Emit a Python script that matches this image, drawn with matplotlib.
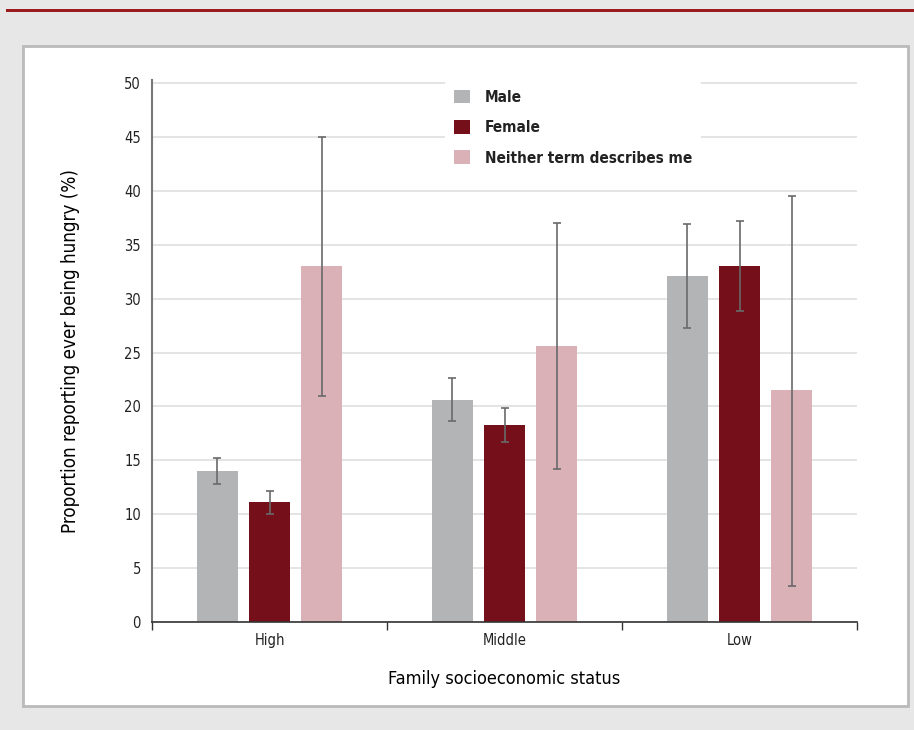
import matplotlib.pyplot as plt
from matplotlib.patches import Rectangle
import numpy as np

plt.rcParams['font.family'] = ['DejaVu Sans']
plt.rcParams['font.stretch'] = 'condensed'

groups = ['High', 'Middle', 'Low']
series = ['Male', 'Female', 'Neither term describes me']
colors = ['#b3b4b6', '#75101b', '#dbb1b8']

male = [14.0, 20.6, 32.1]
male_lo = [12.8, 18.7, 27.3]
male_hi = [15.2, 22.6, 36.9]

female = [11.1, 18.3, 33.0]
female_lo = [10.0, 16.7, 28.9]
female_hi = [12.2, 19.9, 37.2]

neither = [33.0, 25.6, 21.5]
neither_lo = [21.0, 14.2, 3.3]
neither_hi = [45.0, 37.0, 39.5]

values = [male, female, neither]
lows = [male_lo, female_lo, neither_lo]
highs = [male_hi, female_hi, neither_hi]

fig = plt.figure(figsize=(9.14, 7.30), dpi=100)
fig.patch.set_facecolor('#e6e7e6')

# red rule across the top and white panel behind the chart
fig.add_artist(Rectangle((6 / 914, 1 - 12 / 730), 1, 3 / 730, transform=fig.transFigure,
                         facecolor='#9b1b1e', edgecolor='none', zorder=-10))
fig.add_artist(Rectangle((23 / 914, 1 - 706 / 730), 885 / 914, 660 / 730, transform=fig.transFigure,
                         facecolor='white', edgecolor='#b9bab9', linewidth=2, zorder=-10))

ax = fig.add_axes([152 / 914, 108 / 730, 705 / 914, 542 / 730])
ax.set_facecolor('none')

x = np.arange(len(groups))
width = 0.175
step = 0.222
for i, (vals, lo, hi) in enumerate(zip(values, lows, highs)):
    pos = x + (i - 1) * step
    vals = np.array(vals)
    yerr = [vals - np.array(lo), np.array(hi) - vals]
    ax.bar(pos, vals, width, color=colors[i], label=series[i], zorder=2)
    ax.errorbar(pos, vals, yerr=yerr, fmt='none', ecolor='#6a6a6a', elinewidth=1.2,
                capsize=3, capthick=1.2, zorder=3)

ax.set_xlim(-0.5, 2.5)
ax.set_ylim(0, 50.3)
ax.set_yticks(range(0, 51, 5))
ax.yaxis.grid(True, color='#e2e2e2', linewidth=1.3, zorder=0)
ax.set_axisbelow(True)

ax.set_xticks(x)
ax.set_xticklabels(groups, fontsize=10.5)
ax.set_xticks([-0.5, 0.5, 1.5, 2.5], minor=True)
ax.tick_params(axis='x', which='major', length=0, pad=8)
ax.tick_params(axis='x', which='minor', length=6, width=1, color='#333333')
ax.tick_params(axis='y', length=0, labelsize=10.5, pad=8)
for lab in ax.get_yticklabels() + ax.get_xticklabels():
    lab.set_color('#222222')

for side in ['top', 'right']:
    ax.spines[side].set_visible(False)
ax.spines['left'].set_color('#777777')
ax.spines['left'].set_linewidth(1.5)
ax.spines['bottom'].set_color('#333333')
ax.spines['bottom'].set_linewidth(1.2)

ax.set_ylabel('Proportion reporting ever being hungry (%)', fontsize=13.5, labelpad=32)
ax.set_xlabel('Family socioeconomic status', fontsize=13, labelpad=16)

leg = ax.legend(loc='upper left', bbox_to_anchor=(0.405, 1.013), frameon=True, fontsize=11,
                handlelength=1.0, handleheight=1.0, labelspacing=1.0, borderpad=0.6,
                handletextpad=1.0)
leg.get_frame().set_facecolor('white')
leg.get_frame().set_edgecolor('none')
leg.get_frame().set_alpha(1)
for t in leg.get_texts():
    t.set_fontweight('bold')
    t.set_color('#222222')

fig.savefig('out.png', dpi=100, facecolor=fig.get_facecolor())
